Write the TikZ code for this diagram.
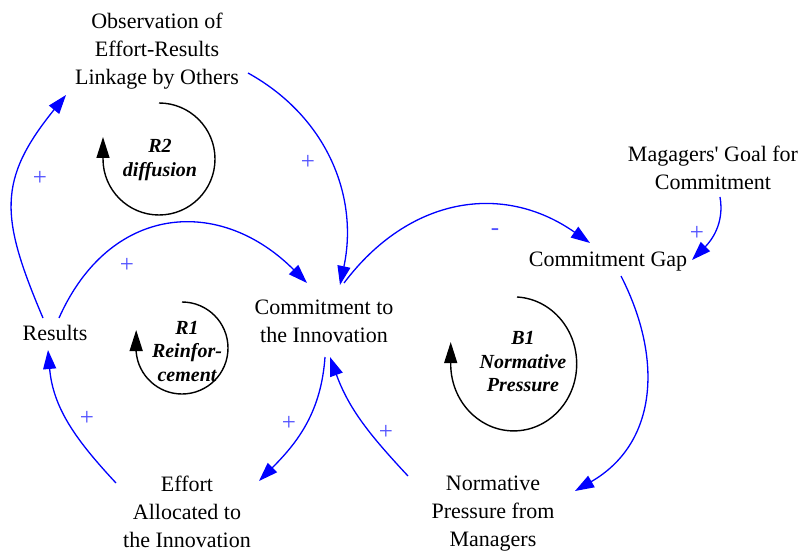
\documentclass[tikz,border=0pt]{standalone}
\usepackage{fontspec}
\setmainfont{Liberation Serif}
\usetikzlibrary{arrows.meta}
\definecolor{linkblue}{RGB}{0,0,255}
\definecolor{signblue}{RGB}{80,80,255}
\newcommand{\straightquote}{{\addfontfeatures{Ligatures=TeXOff}'}}
\begin{document}
\begin{tikzpicture}[x=1pt,y=1pt,
  var/.style={align=center,inner sep=0pt,font=\fontsize{22}{28}\selectfont},
  link/.style={draw=linkblue,line width=1.3pt,-{Triangle[length=19pt,width=13pt]}},
  sign/.style={text=signblue,inner sep=0pt,font=\fontsize{25}{25}\selectfont},
  loopline/.style={draw=black,line width=1.4pt,-{Triangle[length=21pt,width=13pt]}},
  looplabel/.style={align=center,inner sep=0pt,font=\fontsize{20}{23.5}\selectfont\bfseries\itshape}]
\useasboundingbox (0,0) rectangle (805,552);

% variables
\node[var] (obs)  at (157,501) {Observation of\\Effort-Results\\Linkage by Others};
\node[var] (goal) at (713,384) {Magagers\straightquote{} Goal for\\Commitment};
\node[var] (gap)  at (608,290) {Commitment Gap};
\node[var] (res)  at (55,219.5) {Results};
\node[var] (com)  at (324,231) {Commitment to\\the Innovation};
\node[var] (eff)  at (187,40) {Effort\\Allocated to\\the Innovation};
\node[var] (norm) at (493,38) {Normative\\Pressure from\\Managers};

% causal links
\draw[link] ([shift={(-12,14.5)}]res.center) to[out=113,in=231,looseness=1.25] ([shift={(-91,-44)}]obs.center);
\draw[link] ([shift={(91,-22)}]obs.center) to[out=-29,in=78,looseness=1] ([shift={(16,36)}]com.center);
\draw[link] ([shift={(4,14.5)}]res.center) to[out=66,in=135,looseness=1.27] ([shift={(-17,38)}]com.center);
\draw[link] ([shift={(20,38)}]com.center) to[out=53,in=145,looseness=1.1] ([shift={(-18,19)}]gap.center);
\draw[link] ([shift={(7,-29)}]goal.center) to[out=-80,in=45,looseness=1] ([shift={(84,2)}]gap.center);
\draw[link] ([shift={(13,-14)}]gap.center) to[out=-63,in=30,looseness=1.1] ([shift={(82,23)}]norm.center);
\draw[link] ([shift={(-85,38)}]norm.center) to[out=133,in=-70,looseness=1] ([shift={(6,-36)}]com.center);
\draw[link] ([shift={(1,-36)}]com.center) to[out=-94,in=45,looseness=1] ([shift={(72,31)}]eff.center);
\draw[link] ([shift={(-71,29)}]eff.center) to[out=133,in=-85,looseness=1] ([shift={(-7,-17.5)}]res.center);

% link polarities
\node[sign] (s1) at (40,374) {+};
\node[sign] (s2) at (308,390) {+};
\node[sign] (s3) at (127,287) {+};
\node[sign] (s4) at (495,320) {-};
\node[sign] (s5) at (697,319) {+};
\node[sign] (s7) at (386,120) {+};
\node[sign] (s8) at (289,129) {+};
\node[sign] (s9) at (87,134) {+};

% loop markers
\draw[loopline] (159,449) arc[start angle=90,end angle=-180,radius=56pt] -- ++(0,22);
\node[looplabel] (r2) at (160,392) {R2\\diffusion};

\draw[loopline] (182,250) arc[start angle=90,end angle=-175,radius=46pt] -- ++(0,22);
\node[looplabel] (r1) at (187,201) {R1\\Reinfor-\\cement};

\draw[loopline] (517,255) arc[start angle=87,end angle=-179,x radius=63pt,y radius=67pt] -- ++(0,23);
\node[looplabel] (b1) at (523,190) {B1\\Normative\\Pressure};
\end{tikzpicture}
\end{document}
